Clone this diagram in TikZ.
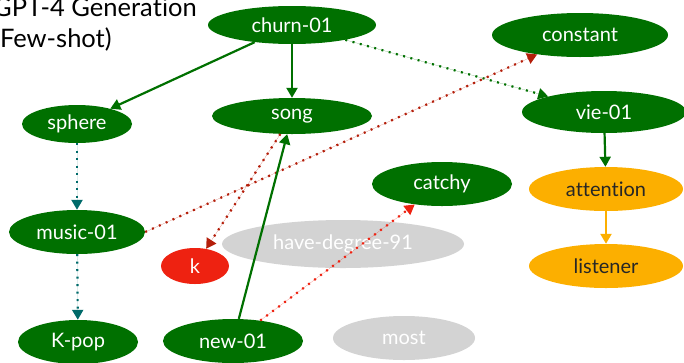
\documentclass[tikz,border=0pt]{standalone}
\usepackage{fontspec}
\setmainfont{Lato}[Ligatures={NoCommon,NoContextual},Contextuals=NoAlternate]
\usetikzlibrary{shapes.geometric,arrows.meta}
\definecolor{dgreen}{RGB}{0,112,0}
\definecolor{teal2}{RGB}{0,106,106}
\definecolor{dred}{RGB}{180,30,10}
\definecolor{bred}{RGB}{238,34,17}
\definecolor{orng}{RGB}{252,175,0}
\definecolor{lgray}{RGB}{211,211,211}
\tikzset{
  nd/.style={ellipse, inner sep=0pt, font=\fontsize{20}{24}\selectfont},
  gn/.style={nd, fill=dgreen, text=white},
  rn/.style={nd, fill=bred, text=white},
  on/.style={nd, fill=orng, text=black!85},
  gy/.style={nd, fill=lgray, text=white},
  tip/.style={-{Triangle[length=10pt,width=11pt]}},
  solidg/.style={tip, draw=dgreen, line width=2.2pt},
  dotline/.style={tip, line width=2.2pt, dash pattern=on 2pt off 5.5pt},
}
\begin{document}
\begin{tikzpicture}[x=1pt,y=-1pt]
\useasboundingbox (0,0) rectangle (684,362);
\node[anchor=base west, font=\fontsize{25.5}{30}\selectfont, inner sep=0pt] (t1) at (-7,16) {GPT-4 Genera\kern0pt tion};
\node[anchor=base west, font=\fontsize{25.5}{30}\selectfont, inner sep=0pt] (t2) at (-7,47) {(Few-shot)};

\node[gn, minimum width=168pt, minimum height=38pt] (churn) at (292,25) {churn-01};
\node[gn, minimum width=160pt, minimum height=36pt] (song) at (292,116) {song};
\node[gn, minimum width=110pt, minimum height=38pt] (sphere) at (77,124) {sphere};
\node[gn, minimum width=136pt, minimum height=44pt] (music) at (77,232) {music-01};
\node[gn, minimum width=120pt, minimum height=44pt] (kpop) at (78,342) {K-pop};
\node[rn, minimum width=68pt, minimum height=36pt] (k) at (195,266) {k};
\node[gy, minimum width=242pt, minimum height=48pt] (hd) at (343,244) {have-degree-91};
\node[gn, minimum width=140pt, minimum height=44pt] (new) at (233,341) {new-01};
\node[gy, minimum width=142pt, minimum height=44pt] (most) at (404,338) {most};
\node[gn, minimum width=140pt, minimum height=44pt] (catchy) at (442,184) {catchy};
\node[gn, minimum width=176pt, minimum height=44pt] (constant) at (580,35) {constant};
\node[gn, minimum width=164pt, minimum height=42pt] (vie) at (604,112) {vie-01};
\node[on, minimum width=154pt, minimum height=44pt] (att) at (606,189) {attention};
\node[on, minimum width=154pt, minimum height=44pt] (lis) at (606,266) {listener};

\draw[solidg] (churn) -- (sphere);
\draw[solidg] (churn) -- (song);
\draw[dotline, draw=dgreen, fill=dgreen] (churn) -- (vie);
\draw[dotline, draw=teal2, fill=teal2] (sphere) -- (music);
\draw[dotline, draw=teal2, fill=teal2] (music) -- (kpop);
\draw[dotline, draw=dred, fill=dred] (music.east) -- (constant);
\draw[dotline, draw=dred, fill=dred] (song) -- (k);
\draw[solidg] (new) -- (song);
\draw[dotline, draw=bred, fill=bred] (new) -- (catchy);
\draw[solidg] (vie) -- (att);
\draw[tip, draw=orng, line width=2.2pt] (att) -- (lis);
\end{tikzpicture}
\end{document}
